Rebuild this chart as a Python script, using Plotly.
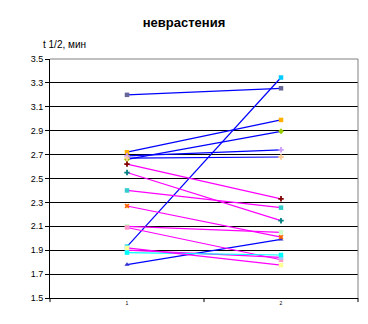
import plotly.graph_objects as go

categories = ["1", "2"]
start_vals = [3.20, 1.93, 2.72, 2.66, 2.69, 2.67, 1.78, 2.62, 2.40, 2.55, 2.27, 2.10, 2.09, 1.90, 1.88, 1.92]
end_vals   = [3.255, 3.345, 2.99, 2.895, 2.74, 2.68, 1.99, 2.33, 2.256, 2.147, 2.01, 2.05, 1.82, 1.84, 1.86, 1.775]
line_colors = ["#0000FF"] * 7 + ["#FF00FF"] * 7 + ["#00FFFF", "#FF00FF"]
marker_colors = ["#666699", "#00CCFF", "#FFB000", "#99CC00", "#CC99FF", "#FFCC99", "#3333CC",
                 "#800000", "#33CCCC", "#008080", "#FF6600", "#CCFFCC", "#FF99CC", "#99CCFF",
                 "#00FFFF", "#FFFF99"]
marker_symbols = ["square", "square", "square", "diamond", "cross", "cross", "triangle-up",
                  "cross", "square", "cross", "x", "square", "square", "square", "square", "square"]
y_ticks = [1.5, 1.7, 1.9, 2.1, 2.3, 2.5, 2.7, 2.9, 3.1, 3.3, 3.5]

fig = go.Figure()
for i in range(len(start_vals)):
    fig.add_trace(go.Scatter(
        x=categories, y=[start_vals[i], end_vals[i]], mode="lines+markers",
        line=dict(color=line_colors[i], width=1.2),
        marker=dict(color=marker_colors[i], symbol=marker_symbols[i], size=4.5),
        showlegend=False, hoverinfo="skip"))

fig.update_layout(
    width=368, height=324,
    margin=dict(l=50, r=10, t=59, b=26),
    paper_bgcolor="white", plot_bgcolor="white",
    title=dict(text="<b>неврастения</b>", x=0.5, xanchor="center", y=1 - 22 / 324, yanchor="middle",
               font=dict(family="Liberation Sans, Arial", size=13, color="black")),
    font=dict(family="Liberation Sans, Arial", color="black"),
    xaxis=dict(type="category", range=[-0.5, 1.5], showgrid=False, showline=True, linecolor="black",
               linewidth=1, ticks="", tickfont=dict(size=5), zeroline=False),
    yaxis=dict(range=[1.5, 3.5], tickvals=y_ticks, ticktext=[f"{v:.1f}" for v in y_ticks],
               showgrid=True, gridcolor="black", gridwidth=1, showline=True, linecolor="black",
               ticks="outside", ticklen=4, tickcolor="black", tickfont=dict(size=9), zeroline=False),
    annotations=[dict(text="t 1/2, мин", xref="paper", yref="paper", x=-0.03, y=1 + 15 / 239,
                      xanchor="left", yanchor="middle", showarrow=False,
                      font=dict(size=10, family="Liberation Sans, Arial"))],
    shapes=[
        dict(type="line", xref="paper", yref="paper", x0=0, x1=1, y0=1, y1=1, line=dict(color="#808080", width=1), layer="above"),
        dict(type="line", xref="paper", yref="paper", x0=1, x1=1, y0=0, y1=1, line=dict(color="#808080", width=1), layer="above"),
        dict(type="line", xref="paper", yref="paper", x0=0, x1=0, y0=0, y1=-0.017, line=dict(color="black", width=1)),
        dict(type="line", xref="paper", yref="paper", x0=0.5, x1=0.5, y0=0, y1=-0.017, line=dict(color="black", width=1)),
        dict(type="line", xref="paper", yref="paper", x0=1, x1=1, y0=0, y1=-0.017, line=dict(color="black", width=1)),
    ],
)

fig.write_html("out.html")
